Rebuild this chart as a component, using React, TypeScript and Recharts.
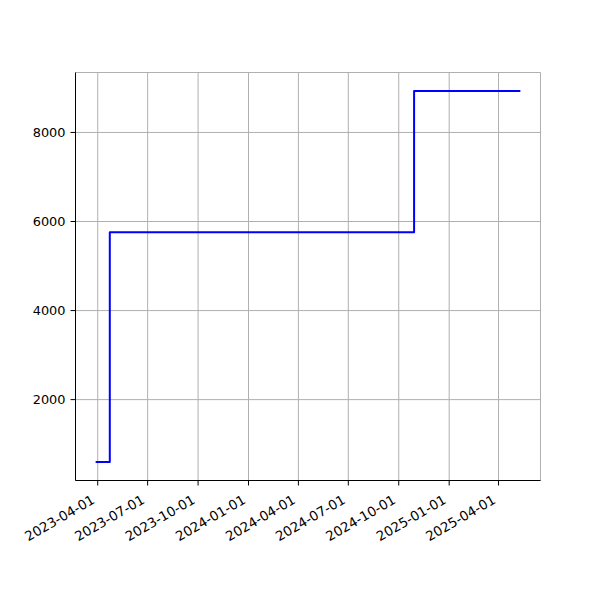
import React from 'react';
import { LineChart, Line, XAxis, YAxis, CartesianGrid } from 'recharts';

const stepDates = ['2023-03-30', '2023-04-23', '2024-10-29', '2025-05-09'];
const stepValues = [600, 5760, 8930, 8930];
const xTickLabels = [
  '2023-04-01', '2023-07-01', '2023-10-01', '2024-01-01', '2024-04-01',
  '2024-07-01', '2024-10-01', '2025-01-01', '2025-04-01',
];
const yTicks = [2000, 4000, 6000, 8000];

const toTs = (s: string) => {
  const [y, m, d] = s.split('-').map(Number);
  return Date.UTC(y, m - 1, d);
};

const data = stepDates.map((d, i) => ({ t: toTs(d), v: stepValues[i] }));
const xTicks = xTickLabels.map(toTs);

const tMin = data[0].t;
const tMax = data[data.length - 1].t;
const tPad = (tMax - tMin) * 0.05;
const xDomain: [number, number] = [tMin - tPad, tMax + tPad];
const vMin = Math.min(...stepValues);
const vMax = Math.max(...stepValues);
const vPad = (vMax - vMin) * 0.05;
const yDomain: [number, number] = [vMin - vPad, vMax + vPad];

const FONT = 'DejaVu Sans';

const fmtDate = (ts: number) => {
  const d = new Date(ts);
  const mm = String(d.getUTCMonth() + 1).padStart(2, '0');
  const dd = String(d.getUTCDate()).padStart(2, '0');
  return `${d.getUTCFullYear()}-${mm}-${dd}`;
};

const DateTick = (props: any) => {
  const { x, y, payload } = props;
  return (
    <text
      transform={`translate(${x - 2},${y + 17}) rotate(-30)`}
      textAnchor="end"
      fontFamily={FONT}
      fontSize={13.4}
      fill="#000"
    >
      {fmtDate(payload.value)}
    </text>
  );
};

export default function App() {
  return (
    <div style={{ position: 'absolute', left: 0, top: 0, width: 600, height: 600, background: '#fff' }}>
      <LineChart
        width={600}
        height={600}
        data={data}
        margin={{ top: 72.5, right: 59.5, left: 0.5, bottom: 79.5 }}
      >
        <CartesianGrid stroke="#b0b0b0" strokeWidth={1} />
        <XAxis
          dataKey="t"
          type="number"
          scale="linear"
          domain={xDomain}
          ticks={xTicks}
          allowDataOverflow
          height={40}
          tickSize={5}
          tickMargin={0}
          tickLine={{ stroke: '#000', strokeWidth: 1 }}
          axisLine={{ stroke: '#000', strokeWidth: 1 }}
          tick={<DateTick />}
          interval={0}
        />
        <XAxis
          xAxisId="top"
          orientation="top"
          dataKey="t"
          type="number"
          domain={xDomain}
          allowDataOverflow
          height={0}
          tick={false}
          tickLine={false}
          axisLine={{ stroke: '#000', strokeWidth: 1 }}
        />
        <YAxis
          type="number"
          domain={yDomain}
          ticks={yTicks}
          allowDataOverflow
          width={75}
          tickSize={5}
          tickMargin={5}
          tickLine={{ stroke: '#000', strokeWidth: 1 }}
          axisLine={{ stroke: '#000', strokeWidth: 1 }}
          tick={{ fill: '#000', fontSize: 12.9, fontFamily: FONT }}
          interval={0}
        />
        <YAxis
          yAxisId="right"
          orientation="right"
          type="number"
          domain={yDomain}
          allowDataOverflow
          width={0}
          tick={false}
          tickLine={false}
          axisLine={{ stroke: '#000', strokeWidth: 1 }}
        />
        <Line
          type="stepAfter"
          dataKey="v"
          stroke="#0000ff"
          strokeWidth={2}
          strokeLinecap="square"
          strokeLinejoin="round"
          dot={false}
          activeDot={false}
          isAnimationActive={false}
        />
      </LineChart>
    </div>
  );
}
